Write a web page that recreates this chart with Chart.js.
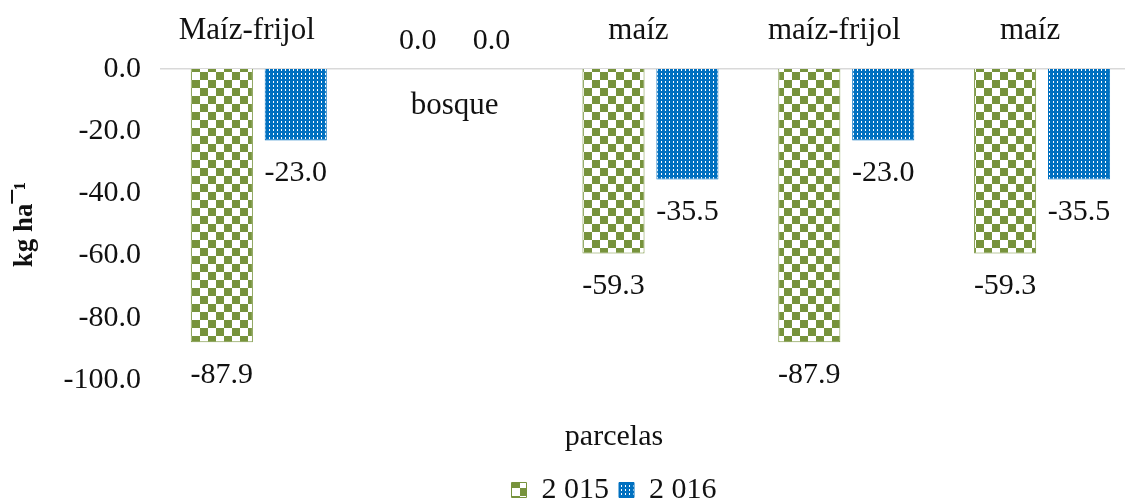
<!DOCTYPE html>
<html>
    <head>
        <meta charset="UTF-8">
        <title>parcelas</title>
        <script src="https://cdn.jsdelivr.net/npm/chart.js@4"></script>
        <style>
            body { margin:0; overflow:hidden; background:#fff; }
            #wrap { width:1140px; height:504px; position:relative; }
        </style>
    </head>
    <body>
        <div id="wrap"><canvas id="chart"></canvas></div>

        <script>
            const categories = ["Maíz-frijol", "bosque", "maíz", "maíz-frijol", "maíz"];
            const seriesNames = ["2 015", "2 016"];
            const values2015 = [-87.9, 0, -59.3, -87.9, -59.3];
            const values2016 = [-23.0, 0, -35.5, -23.0, -35.5];
            const yMin = -100, yMax = 0, yStep = 20;

            const GREEN = "#77933C";
            const BLUE = "#0070C0";
            const serif = "'Liberation Serif', 'Times New Roman', serif";

            // checkerboard for 2015
            function checkerPattern(){
                const c = document.createElement("canvas");
                c.width = 16; c.height = 16;
                const g = c.getContext("2d");
                g.fillStyle = "#fff";
                g.fillRect(0,0,16,16);
                g.fillStyle = GREEN;
                g.fillRect(0,0,8,8);
                g.fillRect(8,8,8,8);
                return g.createPattern(c, "repeat");
            }

            // small white dots for 2016
            function dotPattern(){
                const c = document.createElement("canvas");
                c.width = 4; c.height = 4;
                const g = c.getContext("2d");
                g.fillStyle = BLUE;
                g.fillRect(0,0,4,4);
                g.fillStyle = "#ffffff";
                g.fillRect(1,1,1,2);
                return g.createPattern(c, "repeat");
            }

            Chart.defaults.font.family = serif;
            Chart.defaults.color = "#111";

            // legend sits a bit right of the canvas centre in the original
            const legendShift = {
                id: "legendShift",
                afterLayout(chart){
                    const lg = chart.legend;
                    const dx = 614 - (lg.left + lg.right) / 2;
                    lg.left += dx;
                    lg.right += dx;
                }
            };

            const labelsPlugin = {
                id: "labelsPlugin",
                afterDatasetsDraw(chart){
                    const ctx = chart.ctx;
                    const area = chart.chartArea;
                    const xs = chart.scales.x;
                    ctx.save();
                    ctx.font = "30px " + serif;
                    ctx.fillStyle = "#111";
                    ctx.textAlign = "center";
                    ctx.textBaseline = "middle";

                    // value labels
                    chart.data.datasets.forEach((ds, i) => {
                        chart.getDatasetMeta(i).data.forEach((bar, j) => {
                            const v = ds.data[j];
                            const y = v < 0 ? bar.y + 33 : bar.y - 28;
                            ctx.fillText(v.toFixed(1), bar.x, y);
                        });
                    });

                    // category names (below the line when the values sit above it)
                    ctx.font = "31px " + serif;
                    categories.forEach((name, j) => {
                        const allZero = chart.data.datasets.every(ds => ds.data[j] === 0);
                        const x = xs.getPixelForValue(j);
                        if (allZero) ctx.fillText(name, x, area.top + 37);
                        else ctx.fillText(name, x - 12, area.top - 38);
                    });
                    ctx.restore();
                }
            };

            const chart = new Chart(document.getElementById("chart"), {
                type: "bar",
                data: {
                    labels: categories,
                    datasets: [
                        {
                            label: seriesNames[0],
                            data: values2015,
                            backgroundColor: checkerPattern(),
                            borderColor: GREEN,
                            borderWidth: c => c.raw === 0 ? 0 : 1
                        },
                        {
                            label: seriesNames[1],
                            data: values2016,
                            backgroundColor: dotPattern(),
                            borderColor: BLUE,
                            borderWidth: c => c.raw === 0 ? 0 : 1
                        }
                    ]
                },
                options: {
                    responsive: true,
                    maintainAspectRatio: false,
                    animation: false,
                    categoryPercentage: 0.755,
                    barPercentage: 0.84,
                    layout: { padding: { top: 61, left: 9, right: 0, bottom: -11 } },
                    plugins: {
                        tooltip: { enabled: false },
                        legend: {
                            position: "bottom",
                            title: {
                                display: true,
                                text: "parcelas",
                                color: "#111",
                                font: { size: 30, family: serif },
                                padding: { top: 42, bottom: 7 }
                            },
                            labels: {
                                font: { size: 30, family: serif },
                                color: "#111",
                                boxWidth: 15,
                                boxHeight: 15,
                                padding: 10
                            }
                        }
                    },
                    scales: {
                        x: {
                            position: "top",
                            grid: { display: false },
                            ticks: { display: false },
                            border: { display: true, color: "#d9d9d9", width: 1.5 }
                        },
                        y: {
                            min: yMin,
                            max: yMax,
                            grid: { display: false },
                            border: { display: false },
                            ticks: {
                                stepSize: yStep,
                                padding: 12,
                                font: { size: 30, family: serif },
                                color: "#111",
                                callback: v => v.toFixed(1)
                            },
                            title: {
                                display: true,
                                text: "kg ha\u00AF\u00B9",
                                font: { size: 27, weight: "bold", family: serif },
                                color: "#111",
                                padding: { top: 0, bottom: 10 }
                            }
                        }
                    }
                },
                plugins: [legendShift, labelsPlugin]
            });
        </script>
    </body>
</html>
